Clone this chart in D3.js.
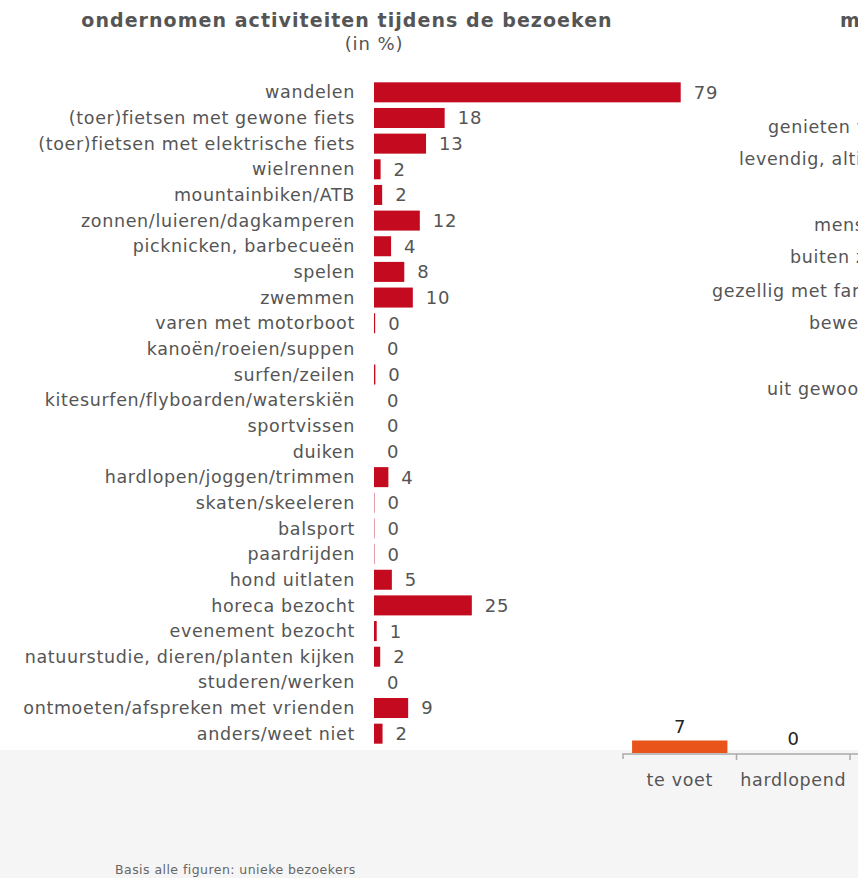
<!DOCTYPE html>
<html>
<head>
<meta charset="utf-8">
<script src="https://cdn.jsdelivr.net/npm/d3@7/dist/d3.min.js"></script>
<style>
  body { margin: 0; background: #fff; overflow: hidden; }
  svg { display: block; font-family: "DejaVu Sans", Verdana, sans-serif; }
</style>
</head>
<body>
<svg id="canvas" width="858" height="878"></svg>
<script>
// activiteiten (links)
let activities = [
  "wandelen", "(toer)fietsen met gewone fiets", "(toer)fietsen met elektrische fiets",
  "wielrennen", "mountainbiken/ATB", "zonnen/luieren/dagkamperen", "picknicken, barbecueën",
  "spelen", "zwemmen", "varen met motorboot", "kanoën/roeien/suppen", "surfen/zeilen",
  "kitesurfen/flyboarden/waterskiën", "sportvissen", "duiken", "hardlopen/joggen/trimmen",
  "skaten/skeeleren", "balsport", "paardrijden", "hond uitlaten", "horeca bezocht",
  "evenement bezocht", "natuurstudie, dieren/planten kijken", "studeren/werken",
  "ontmoeten/afspreken met vrienden", "anders/weet niet"
];
let activityValues = [
  79, 18.2, 13.4, 1.7, 2.1, 11.8, 4.4, 7.8, 10.0, 0.3, 0, 0.35, 0, 0, 0, 3.7,
  0.1, 0.1, 0.1, 4.6, 25.2, 0.7, 1.6, 0, 8.8, 2.2
];

// rechter paneel (afgesneden)
let motives = [
  "genieten van de natuur", "levendig, altijd wat te doen", "mensen ontmoeten",
  "buiten zijn", "gezellig met familie/vrienden", "bewegen", "uit gewoonte"
];

// vervoerwijze (onder rechts)
let modes = ["te voet", "hardlopend", "fietsend"];
let modeValues = [7, 0, 0];

let canvas = d3.select('#canvas');
let grey = '#555';

// grijze onderstrook
canvas.append('rect')
  .attr('x', 0).attr('y', 750).attr('width', 858).attr('height', 128)
  .attr('fill', '#f5f5f5');

// titel
canvas.append('text')
  .attr('x', 347).attr('y', 27)
  .attr('text-anchor', 'middle')
  .attr('font-size', 19).attr('font-weight', 'bold')
  .attr('letter-spacing', 1.05)
  .attr('fill', grey)
  .text('ondernomen activiteiten tijdens de bezoeken');
canvas.append('text')
  .attr('x', 374).attr('y', 50)
  .attr('text-anchor', 'middle')
  .attr('font-size', 18).attr('letter-spacing', 0.9)
  .attr('fill', grey)
  .text('(in %)');

canvas.append('text')
  .attr('x', 840).attr('y', 27)
  .attr('font-size', 19).attr('font-weight', 'bold')
  .attr('fill', grey)
  .text('motieven');

let x = d3.scaleLinear().domain([0, 79]).range([374, 680.7]);
let y = d3.scaleBand().domain(activities).range([79.5, 746.5]).paddingInner(0.22).paddingOuter(0.11);

let rows = canvas.selectAll('g.row')
  .data(activities)
  .enter()
  .append('g')
  .attr('class', 'row');

rows.append('text')
  .attr('x', 355)
  .attr('y', (d) => y(d) + y.bandwidth() / 2)
  .attr('dy', '0.35em')
  .attr('text-anchor', 'end')
  .attr('font-size', 17.5)
  .attr('letter-spacing', 0.65)
  .attr('fill', grey)
  .text((d) => d);

rows.append('rect')
  .attr('x', x(0))
  .attr('y', (d) => y(d))
  .attr('height', y.bandwidth())
  .attr('width', (d, i) => x(activityValues[i]) - x(0))
  .attr('fill', '#c40a1f');

rows.append('text')
  .attr('x', (d, i) => x(activityValues[i]) + 13)
  .attr('y', (d) => y(d) + y.bandwidth() / 2)
  .attr('dy', '0.36em')
  .attr('font-size', 18)
  .attr('letter-spacing', 0.8)
  .attr('fill', grey)
  .text((d, i) => Math.round(activityValues[i]));

// afgesneden labels rechts
let motiveY = [127, 159, 225, 257, 291, 323, 389];
let motiveX = [768, 739, 814, 790, 712, 809, 767];
canvas.selectAll('text.motive')
  .data(motives)
  .enter()
  .append('text')
  .attr('class', 'motive')
  .attr('x', (d, i) => motiveX[i])
  .attr('y', (d, i) => motiveY[i])
  .attr('dy', '0.35em')
  .attr('font-size', 17.5)
  .attr('letter-spacing', 0.65)
  .attr('fill', grey)
  .text((d) => d);

// kolommen onder rechts
let bx = d3.scaleBand().domain(modes).range([623, 623 + 113.5 * modes.length]).paddingInner(0.16).paddingOuter(0.08);
let by = d3.scaleLinear().domain([0, 7]).range([753, 740.5]);

canvas.selectAll('rect.mode')
  .data(modes)
  .enter()
  .append('rect')
  .attr('class', 'mode')
  .attr('x', (d) => bx(d))
  .attr('y', (d, i) => by(modeValues[i]))
  .attr('width', bx.bandwidth())
  .attr('height', (d, i) => by(0) - by(modeValues[i]))
  .attr('fill', '#e8541a');

canvas.selectAll('text.modeval')
  .data(modes)
  .enter()
  .append('text')
  .attr('class', 'modeval')
  .attr('x', (d) => bx(d) + bx.bandwidth() / 2)
  .attr('y', (d, i) => by(modeValues[i]) - 8)
  .attr('text-anchor', 'middle')
  .attr('font-size', 18)
  .attr('fill', '#222')
  .text((d, i) => modeValues[i]);

let axis = canvas.append('g')
  .attr('transform', 'translate(0,754)')
  .call(d3.axisBottom(bx).tickSize(0).tickPadding(20));
axis.select('.domain').attr('stroke', '#aaa').attr('stroke-width', 1.5).attr('d', 'M623,5V0H950');
axis.selectAll('text')
  .attr('font-size', 17.5).attr('letter-spacing', 0.65)
  .attr('fill', grey).attr('font-family', '"DejaVu Sans", Verdana, sans-serif');
axis.selectAll('.sep')
  .data(modes)
  .enter()
  .append('line')
  .attr('class', 'sep')
  .attr('x1', (d) => bx(d) + bx.bandwidth() + bx.step() * bx.paddingInner() / 2)
  .attr('x2', (d) => bx(d) + bx.bandwidth() + bx.step() * bx.paddingInner() / 2)
  .attr('y1', 0).attr('y2', 6)
  .attr('stroke', '#aaa').attr('stroke-width', 1.5);

// voetnoot
canvas.append('text')
  .attr('x', 115).attr('y', 874)
  .attr('font-size', 12.5)
  .attr('letter-spacing', 0.45)
  .attr('fill', '#666')
  .text('Basis alle figuren: unieke bezoekers');
</script>
</body>
</html>
